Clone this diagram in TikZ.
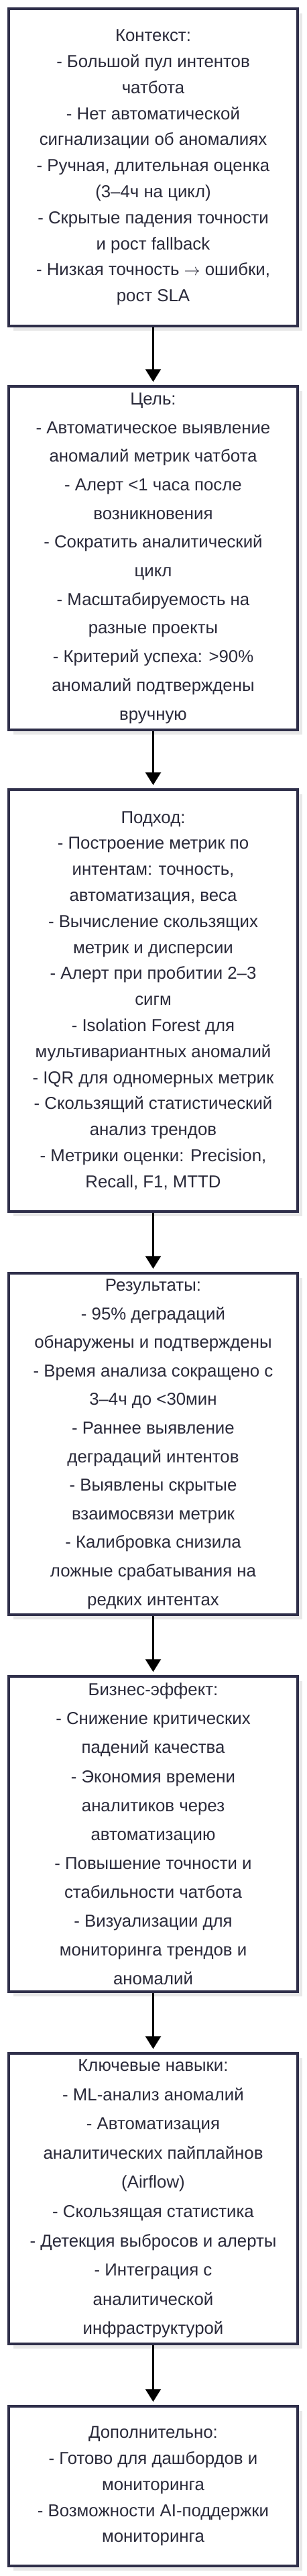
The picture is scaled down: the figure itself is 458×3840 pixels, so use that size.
\documentclass[tikz,border=0pt]{standalone}
\usepackage{fontspec}
\setmainfont{Liberation Sans}
\usetikzlibrary{arrows.meta,shadows}
\definecolor{bordercol}{HTML}{2F2F4A}
\definecolor{textcol}{HTML}{2A2A3A}
\definecolor{shadowcol}{HTML}{E8E8E8}
\tikzset{
  box/.style={draw=bordercol, line width=1.75pt, fill=white, inner sep=0pt,
    minimum width=215.5pt, align=center, text=textcol,
    general shadow={fill=shadowcol, shadow xshift=3.5pt, shadow yshift=-3.5pt}},
  pitchA/.style={font=\fontsize{12.9pt}{19.4pt}\selectfont},
  arr/.style={draw=black, line width=1.5pt, -{Triangle[length=9.5pt,width=11.5pt]}, shorten >=2.5pt}
}
\begin{document}
\begin{tikzpicture}[x=0.5pt,y=-0.5pt]
\useasboundingbox[fill=white] (0,0) rectangle (458,3840);
\node[box, pitchA, minimum height=236.5pt] (b1) at (228.5,249.5) {Контекст:\\- Большой пул интентов\\чатбота\\- Нет автоматической\\сигнализации об аномалиях\\- Ручная, длительная оценка\\(3–4ч на цикл)\\- Скрытые падения точности\\и рост fallback\\- Низкая точность $\rightarrow$ ошибки,\\рост SLA};
\node[box, font=\fontsize{12.9pt}{21.35pt}\selectfont, minimum height=256pt] (b2) at (228.5,832) {Цель:\\- Автоматическое выявление\\аномалий метрик чатбота\\- Алерт <1 часа после\\возникновения\\- Сократить аналитический\\цикл\\- Масштабируемость на\\разные проекты\\- Критерий успеха: >90\%\\аномалий подтверждены\\вручную};
\node[box, pitchA, minimum height=314.5pt] (b3) at (228.5,1491.5) {Подход:\\- Построение метрик по\\интентам: точность,\\автоматизация, веса\\- Вычисление скользящих\\метрик и дисперсии\\- Алерт при пробитии 2–3\\сигм\\- Isolation Forest для\\мультивариантных аномалий\\- IQR для одномерных метрик\\- Скользящий статистический\\анализ трендов\\- Метрики оценки: Precision,\\Recall, F1, MTTD};
\node[box, font=\fontsize{12.9pt}{21.3pt}\selectfont, minimum height=254.5pt] (b4) at (228.5,2152.5) {Результаты:\\- 95\% деградаций\\обнаружены и подтверждены\\- Время анализа сокращено с\\3–4ч до <30мин\\- Раннее выявление\\деградаций интентов\\- Выявлены скрытые\\взаимосвязи метрик\\- Калибровка снизила\\ложные срабатывания на\\редких интентах};
\node[box, font=\fontsize{12.9pt}{21.55pt}\selectfont, minimum height=235pt] (b5) at (228.5,2734) {Бизнес-эффект:\\- Снижение критических\\падений качества\\- Экономия времени\\аналитиков через\\автоматизацию\\- Повышение точности и\\стабильности чатбота\\- Визуализации для\\мониторинга трендов и\\аномалий};
\node[box, font=\fontsize{12.9pt}{21.8pt}\selectfont, minimum height=216.5pt] (b6) at (228.5,3277.5) {Ключевые навыки:\\- ML-анализ аномалий\\- Автоматизация\\аналитических пайплайнов\\(Airflow)\\- Скользящая статистика\\- Детекция выбросов и алерты\\- Интеграция с\\аналитической\\инфраструктурой};
\node[box, pitchA, minimum height=119pt] (b7) at (228.5,3706) {Дополнительно:\\- Готово для дашбордов и\\мониторинга\\- Возможности AI-поддержки\\мониторинга};
\draw[arr] (b1.south) -- (b2.north);
\draw[arr] (b2.south) -- (b3.north);
\draw[arr] (b3.south) -- (b4.north);
\draw[arr] (b4.south) -- (b5.north);
\draw[arr] (b5.south) -- (b6.north);
\draw[arr] (b6.south) -- (b7.north);
\end{tikzpicture}
\end{document}
